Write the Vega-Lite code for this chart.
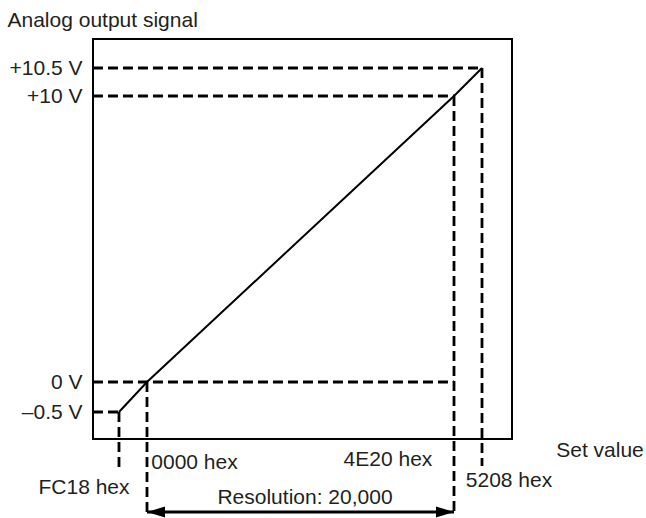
{
  "$schema": "https://vega.github.io/schema/vega-lite/v6.json",
  "width": 419,
  "height": 400,
  "autosize": {"type": "none"},
  "padding": {"left": 93, "top": 39, "right": 134, "bottom": 79},
  "background": "white",
  "config": {
    "font": "Liberation Sans",
    "view": {"stroke": "#000000", "strokeWidth": 2}
  },
  "datasets": {
    "signal": [
      {"set_value": -1000, "volts": -0.5},
      {"set_value": 0, "volts": 0},
      {"set_value": 20000, "volts": 10},
      {"set_value": 21000, "volts": 10.5}
    ],
    "guides": [
      {"set_value": -1930, "set_value_end": 21000, "volts": 10.5, "volts_end": 10.5},
      {"set_value": -1930, "set_value_end": 20000, "volts": 10, "volts_end": 10},
      {"set_value": -1930, "set_value_end": 20000, "volts": 0, "volts_end": 0},
      {"set_value": -1930, "set_value_end": -1000, "volts": -0.5, "volts_end": -0.5},
      {"set_value": -1000, "set_value_end": -1000, "volts": -0.5, "volts_end": -1.45},
      {"set_value": 0, "set_value_end": 0, "volts": 0, "volts_end": -2.2},
      {"set_value": 20000, "set_value_end": 20000, "volts": 10, "volts_end": -2.2},
      {"set_value": 21000, "set_value_end": 21000, "volts": 10.5, "volts_end": -1.4}
    ],
    "labels": [
      {"label": "FC18 hex", "set_value": -2250, "volts": -1.77},
      {"label": "0000 hex", "set_value": 3094, "volts": -1.35},
      {"label": "4E20 hex", "set_value": 15700, "volts": -1.3},
      {"label": "5208 hex", "set_value": 21964, "volts": -1.65},
      {"label": "Set value", "set_value": 25214, "volts": -1.15},
      {"label": "Resolution: 20,000", "set_value": 10293, "volts": -1.933}
    ],
    "arrow": [
      {"set_value": 0, "set_value_end": 20000, "volts": -2.167}
    ],
    "heads": [
      {"set_value": 0, "volts": -2.167, "dir": "left"},
      {"set_value": 20000, "volts": -2.167, "dir": "right"}
    ]
  },
  "layer": [
    {
      "data": {"name": "guides"},
      "mark": {"type": "rule", "stroke": "#000000", "strokeWidth": 2.8, "strokeDash": [10, 5], "clip": false},
      "encoding": {
        "x": {"field": "set_value", "type": "quantitative",
              "scale": {"domain": [-1000, 0, 20000, 21000], "range": [26, 54, 361, 389], "nice": false, "zero": false, "clamp": false},
              "axis": null},
        "x2": {"field": "set_value_end"},
        "y": {"field": "volts", "type": "quantitative",
              "scale": {"domain": [-0.5, 0, 10, 10.5], "range": [373, 343, 57, 29], "nice": false, "zero": false, "clamp": false},
              "axis": {
                "title": "Analog output signal",
                "titleAngle": 0,
                "titleAlign": "left",
                "titleBaseline": "middle",
                "titleX": -86,
                "titleY": -19,
                "titleFontSize": 21,
                "titleFontWeight": "normal",
                "titleColor": "#231f20",
                "titleFont": "Liberation Sans",
                "values": [10.5, 10, 0, -0.5],
                "labelExpr": "datum.value == 10.5 ? '+10.5 V' : datum.value == 10 ? '+10 V' : datum.value == 0 ? '0 V' : '–0.5 V'",
                "labelFontSize": 21,
                "labelColor": "#231f20",
                "labelFont": "Liberation Sans",
                "labelPadding": 11,
                "labelBaseline": "middle",
                "domain": false,
                "ticks": false,
                "tickSize": 0,
                "grid": false
              }},
        "y2": {"field": "volts_end"}
      }
    },
    {
      "data": {"name": "signal"},
      "mark": {"type": "line", "stroke": "#000000", "strokeWidth": 2, "clip": false},
      "encoding": {
        "x": {"field": "set_value", "type": "quantitative",
              "scale": {"domain": [-1000, 0, 20000, 21000], "range": [26, 54, 361, 389], "nice": false, "zero": false, "clamp": false}},
        "y": {"field": "volts", "type": "quantitative",
              "scale": {"domain": [-0.5, 0, 10, 10.5], "range": [373, 343, 57, 29], "nice": false, "zero": false, "clamp": false}}
      }
    },
    {
      "data": {"name": "arrow"},
      "mark": {"type": "rule", "stroke": "#000000", "strokeWidth": 3, "clip": false},
      "encoding": {
        "x": {"field": "set_value", "type": "quantitative",
              "scale": {"domain": [-1000, 0, 20000, 21000], "range": [26, 54, 361, 389], "nice": false, "zero": false, "clamp": false}},
        "x2": {"field": "set_value_end"},
        "y": {"field": "volts", "type": "quantitative",
              "scale": {"domain": [-0.5, 0, 10, 10.5], "range": [373, 343, 57, 29], "nice": false, "zero": false, "clamp": false}}
      }
    },
    {
      "data": {"name": "heads"},
      "transform": [{"filter": "datum.dir == 'left'"}],
      "mark": {"type": "point", "shape": "M0,0L2,-0.62L2,0.62Z", "size": 324, "filled": true, "fill": "#000000", "strokeWidth": 0, "opacity": 1, "clip": false},
      "encoding": {
        "x": {"field": "set_value", "type": "quantitative",
              "scale": {"domain": [-1000, 0, 20000, 21000], "range": [26, 54, 361, 389], "nice": false, "zero": false, "clamp": false}},
        "y": {"field": "volts", "type": "quantitative",
              "scale": {"domain": [-0.5, 0, 10, 10.5], "range": [373, 343, 57, 29], "nice": false, "zero": false, "clamp": false}}
      }
    },
    {
      "data": {"name": "heads"},
      "transform": [{"filter": "datum.dir == 'right'"}],
      "mark": {"type": "point", "shape": "M0,0L-2,-0.62L-2,0.62Z", "size": 324, "filled": true, "fill": "#000000", "strokeWidth": 0, "opacity": 1, "clip": false},
      "encoding": {
        "x": {"field": "set_value", "type": "quantitative",
              "scale": {"domain": [-1000, 0, 20000, 21000], "range": [26, 54, 361, 389], "nice": false, "zero": false, "clamp": false}},
        "y": {"field": "volts", "type": "quantitative",
              "scale": {"domain": [-0.5, 0, 10, 10.5], "range": [373, 343, 57, 29], "nice": false, "zero": false, "clamp": false}}
      }
    },
    {
      "data": {"name": "labels"},
      "mark": {"type": "text", "font": "Liberation Sans", "fontSize": 21, "fill": "#231f20", "align": "center", "baseline": "middle", "clip": false},
      "encoding": {
        "x": {"field": "set_value", "type": "quantitative",
              "scale": {"domain": [-1000, 0, 20000, 21000], "range": [26, 54, 361, 389], "nice": false, "zero": false, "clamp": false}},
        "y": {"field": "volts", "type": "quantitative",
              "scale": {"domain": [-0.5, 0, 10, 10.5], "range": [373, 343, 57, 29], "nice": false, "zero": false, "clamp": false}},
        "text": {"field": "label"}
      }
    }
  ]
}
